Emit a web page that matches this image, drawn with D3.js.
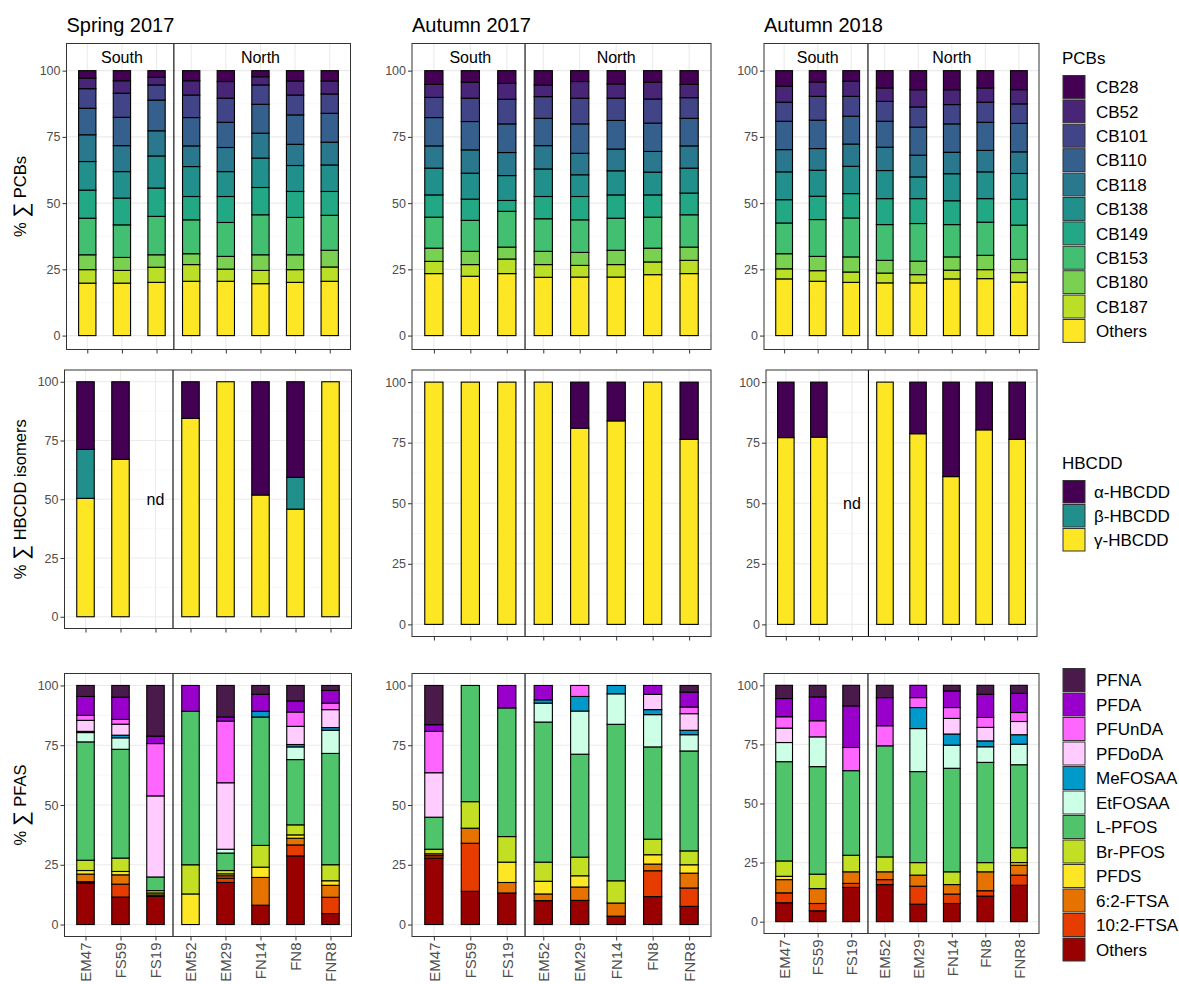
<!DOCTYPE html>
<html><head><meta charset="utf-8">
<script src="https://cdn.jsdelivr.net/npm/d3@7"></script>
<style>
body{margin:0;background:#fff;}
svg{font-family:"Liberation Sans", Arial, sans-serif;}
</style></head><body>
<svg id="chart" width="1179" height="984"></svg>
<script>
// ---------------- DATA ----------------
const sites = ["EM47","FS59","FS19","EM52","EM29","FN14","FN8","FNR8"];
const seasons = ["Spring 2017","Autumn 2017","Autumn 2018"];
const regionLabels = ["South","North"];

const pcbNames = ["CB28","CB52","CB101","CB110","CB118","CB138","CB149","CB153","CB180","CB187","Others"];
const pcbColors = ["#440154","#482576","#414487","#35608D","#2A788E","#21908C","#22A884","#43BF71","#7AD151","#BBDF27","#FDE725"];

// rows = sites, columns = pcbNames (% of sum PCBs)
const pcbSpring2017 = [
  [2.8,4.0,7.4,10.0,10.1,10.8,10.6,13.8,5.6,5.1,19.8],
  [3.8,4.7,9.1,10.7,9.8,10.0,10.1,12.3,4.9,4.8,19.8],
  [2.5,2.9,5.7,11.6,9.5,12.1,10.7,14.5,4.7,5.7,20.1],
  [3.8,5.4,8.5,10.7,7.8,11.3,8.8,12.8,4.1,6.3,20.5],
  [4.1,6.3,9.1,9.5,9.1,9.4,9.8,12.8,4.8,4.6,20.5],
  [2.3,3.1,7.3,10.9,9.4,11.1,10.3,15.1,5.9,5.0,19.6],
  [3.9,5.3,7.5,11.1,8.0,9.8,9.8,14.1,5.6,4.8,20.1],
  [3.9,4.9,7.3,10.9,8.6,10.0,9.0,13.2,6.3,5.4,20.5]
];
const pcbAutumn2017 = [
  [5.2,4.9,7.6,10.7,8.4,10.1,8.4,11.7,5.0,4.6,23.4],
  [4.3,6.1,8.8,10.7,8.8,9.8,8.0,11.7,5.0,4.4,22.4],
  [4.8,6.0,9.3,10.8,8.7,9.4,4.1,13.5,4.5,5.5,23.4],
  [5.4,4.4,8.2,10.3,8.8,10.4,8.4,12.3,5.0,4.8,22.0],
  [4.1,6.3,9.7,11.1,8.1,8.2,8.8,12.3,4.9,4.4,22.1],
  [5.0,5.4,8.4,10.8,8.2,9.1,8.8,12.1,5.4,4.7,22.1],
  [4.4,6.3,9.1,10.7,7.8,8.6,8.4,11.7,5.2,4.8,23.0],
  [5.2,5.0,7.8,10.4,8.4,9.4,8.2,12.2,5.0,5.0,23.4]
];
const pcbAutumn2018 = [
  [5.9,6.0,7.2,10.7,8.4,10.5,8.8,11.6,5.7,3.8,21.4],
  [4.3,5.4,9.0,10.7,8.2,9.8,8.8,13.9,5.4,4.0,20.5],
  [4.0,5.7,7.5,10.5,8.4,10.3,9.2,14.7,5.7,3.9,20.1],
  [6.5,5.1,7.5,9.8,8.8,10.6,9.8,13.5,4.8,3.7,19.9],
  [7.2,6.5,7.6,10.6,8.2,8.2,9.4,14.2,5.1,3.1,19.9],
  [7.2,5.6,7.3,10.7,8.1,10.2,9.0,12.2,5.0,3.3,21.4],
  [6.5,5.4,7.6,10.6,8.1,10.1,8.9,12.5,5.4,3.4,21.5],
  [7.2,5.4,7.4,10.8,8.2,9.8,9.8,13.0,5.0,3.6,20.3]
];

const hbcddNames = ["\u03b1-HBCDD","\u03b2-HBCDD","\u03b3-HBCDD"];
const hbcddColors = ["#440154","#21908C","#FDE725"];
// null = not detected (nd)
const hbcddSpring2017 = [[28.8,20.8,50.4],[33.0,0,67.0],null,[15.6,0,84.4],[0,0,100],[48.2,0,51.8],[40.7,13.5,45.8],[0,0,100]];
const hbcddAutumn2017 = [[0,0,100],[0,0,100],[0,0,100],[0,0,100],[19.0,0,81.0],[16.0,0,84.0],[0,0,100],[23.6,0,76.4]];
const hbcddAutumn2018 = [[22.9,0,77.1],[22.7,0,77.3],null,[0,0,100],[21.3,0,78.7],[39.0,0,61.0],[19.7,0,80.3],[23.6,0,76.4]];

const pfasNames = ["PFNA","PFDA","PFUnDA","PFDoDA","MeFOSAA","EtFOSAA","L-PFOS","Br-PFOS","PFDS","6:2-FTSA","10:2-FTSA","Others"];
const pfasColors = ["#4A1A4A","#9900CC","#FF66FF","#FFCCFF","#0099CC","#CCFFE6","#4FC46A","#C2DF23","#FDE725","#E67300","#E63C00","#990000"];
const pfasSpring2017 = [
  [4.6,7.9,2.1,4.6,0.5,3.9,49.5,4.3,1.5,3.2,0.5,17.4],
  [4.9,9.3,2.0,4.6,1.1,4.8,45.5,5.6,1.4,3.9,5.4,11.5],
  [21.2,3.1,21.9,33.9,0,0,5.7,1.0,0.8,0,0.6,11.8],
  [0,10.8,0,0,0,0,64.2,12.2,12.8,0,0,0],
  [13.2,1.7,25.8,27.8,0,1.6,7.3,1.4,0.8,1.0,1.8,17.6],
  [3.7,7.1,0,0,2.4,0,53.7,9.1,4.3,11.6,0,8.1],
  [6.5,4.6,6.0,7.6,1.0,5.3,27.3,4.2,1.4,2.8,4.6,28.7],
  [2.1,5.3,2.7,7.5,1.1,9.7,46.5,6.7,1.9,5.0,6.8,4.6]
];
const pfasAutumn2017 = [
  [16.4,2.8,17.3,18.6,0,0,13.4,1.9,0,0.8,1.0,27.8],
  [0,0,0,0,0,0,48.6,11.1,0,6.3,20.1,13.9],
  [0,9.4,0,0,0,0,53.8,10.7,8.5,4.4,0,13.2],
  [0,6.0,0,0,1.4,7.9,58.6,8.0,5.3,2.8,0,10.0],
  [0,0,4.6,0,6.1,18.05,43.05,7.8,4.7,5.6,0,10.1],
  [0,0,0,0,3.5,12.75,65.45,9.3,0,5.5,0,3.5],
  [0,3.75,0,6.35,2.1,13.5,38.6,6.5,3.9,2.8,10.8,11.7],
  [2.8,6.2,2.8,6.95,1.85,6.8,41.8,5.8,3.5,6.2,7.7,7.6]
];
const pfasAutumn2018 = [
  [5.6,7.7,4.8,6.1,0,8.1,42.0,6.5,1.4,5.6,4.2,8.0],
  [4.9,10.1,6.8,0,0,12.6,45.5,6.1,0,6.3,3.1,4.6],
  [8.7,17.6,9.8,0,0,0,35.8,7.0,0,4.9,1.7,14.5],
  [5.2,11.9,8.5,0,0,0,47.0,6.3,0,3.3,2.1,15.7],
  [0,5.2,4.2,0,8.9,18.2,38.5,5.3,0,4.7,7.6,7.4],
  [2.4,7.0,4.6,6.6,4.7,9.8,43.8,5.4,0,4.0,4.0,7.7],
  [3.8,9.8,4.2,5.7,2.5,6.6,42.4,3.9,0,8.0,2.3,10.8],
  [3.4,8.1,3.8,5.6,4.0,8.7,35.1,6.3,1.1,4.2,4.3,15.4]
];

const yTicks = [0,25,50,75,100];

// ---------------- LAYOUT ----------------
const svg = d3.select("#chart");
const FONT = "\"Liberation Sans\", Arial, sans-serif";

const rows = [
  { names: pcbNames, colors: pcbColors, data: [pcbSpring2017, pcbAutumn2017, pcbAutumn2018],
    domain: [-5.25, 110.25], regionText: true, xLabels: false, yTitle: "PCBs",
    boxes: [[66.5,43.5,350.5,349.5],[412,43.5,711,349.5],[764,43.5,1039,349.5]] },
  { names: hbcddNames, colors: hbcddColors, data: [hbcddSpring2017, hbcddAutumn2017, hbcddAutumn2018],
    domain: [-5, 105], regionText: false, xLabels: false, yTitle: "HBCDD isomers",
    boxes: [[64.5,370,351.5,628.5],[412,370,711,636.5],[766,370,1037,636.5]] },
  { names: pfasNames, colors: pfasColors, data: [pfasSpring2017, pfasAutumn2017, pfasAutumn2018],
    domain: [-5, 105], regionText: false, xLabels: true, yTitle: "PFAS",
    boxes: [[64.5,673.5,351.5,936.5],[412,673.5,711,936.5],[764,673.5,1039,933.5]] }
];

function drawPanel(row, ci) {
  const [x0, y0, x1, y1] = row.boxes[ci];
  const g = svg.append("g");
  const x = d3.scalePoint().domain(sites).range([x0, x1]).padding(0.6);
  const y = d3.scaleLinear().domain(row.domain).range([y1, y0]);
  const bw = x.step() * 0.5;

  // background grid
  const grid = g.append("g");
  const minor = d3.range(12.5, 100, 25);
  grid.selectAll("line.minor").data(minor).join("line")
    .attr("x1", x0).attr("x2", x1).attr("y1", d => y(d)).attr("y2", d => y(d))
    .attr("stroke", "#F2F2F2").attr("stroke-width", 0.6);
  grid.selectAll("line.majy").data(yTicks).join("line")
    .attr("x1", x0).attr("x2", x1).attr("y1", d => y(d)).attr("y2", d => y(d))
    .attr("stroke", "#EBEBEB").attr("stroke-width", 1.1);
  grid.selectAll("line.majx").data(sites).join("line")
    .attr("x1", d => x(d)).attr("x2", d => x(d)).attr("y1", y0).attr("y2", y1)
    .attr("stroke", "#EBEBEB").attr("stroke-width", 1.1);

  // stacked bars
  const data = row.data[ci];
  const rowsObj = [];
  data.forEach((vals, i) => {
    if (!vals) return;
    const tot = d3.sum(vals);
    const o = { site: sites[i] };
    row.names.forEach((n, k) => o[n] = vals[k] / tot * 100);
    rowsObj.push(o);
  });
  const keys = row.names.slice().reverse(); // bottom first
  const stack = d3.stack().keys(keys)(rowsObj);
  const color = d3.scaleOrdinal().domain(row.names).range(row.colors);
  stack.forEach(series => {
    g.append("g").selectAll("rect")
      .data(series.filter(d => d[1] - d[0] > 0.001))
      .join("rect")
      .attr("x", d => x(d.data.site) - bw / 2)
      .attr("width", bw)
      .attr("y", d => y(d[1]))
      .attr("height", d => y(d[0]) - y(d[1]))
      .attr("fill", color(series.key))
      .attr("stroke", "#000")
      .attr("stroke-width", 1.1);
  });

  // nd labels
  data.forEach((vals, i) => {
    if (vals) return;
    g.append("text").attr("x", x(sites[i])).attr("y", y(50)).attr("dy", "0.35em")
      .attr("text-anchor", "middle").attr("font-size", 16).attr("fill", "#000").text("nd");
  });

  // divider South/North
  const xd = (x(sites[2]) + x(sites[3])) / 2;
  g.append("line").attr("x1", xd).attr("x2", xd).attr("y1", y0).attr("y2", y1)
    .attr("stroke", "#000").attr("stroke-width", 1.1);

  if (row.regionText) {
    g.append("text").attr("x", x(sites[1])).attr("y", y(105)).attr("dy", "0.35em")
      .attr("text-anchor", "middle").attr("font-size", 16).text(regionLabels[0]);
    g.append("text").attr("x", x(sites[5])).attr("y", y(105)).attr("dy", "0.35em")
      .attr("text-anchor", "middle").attr("font-size", 16).text(regionLabels[1]);
  }

  // border
  g.append("rect").attr("x", x0).attr("y", y0).attr("width", x1 - x0).attr("height", y1 - y0)
    .attr("fill", "none").attr("stroke", "#333").attr("stroke-width", 1);

  // axes
  const ya = g.append("g").attr("transform", `translate(${x0},0)`)
    .call(d3.axisLeft(y).tickValues(yTicks).tickSize(4).tickPadding(2));
  ya.select(".domain").remove();
  ya.selectAll(".tick line").attr("stroke", "#333");
  ya.selectAll(".tick text").attr("fill", "#4D4D4D").attr("font-size", 12.5).attr("font-family", FONT);

  const xa = g.append("g").attr("transform", `translate(0,${y1})`)
    .call(d3.axisBottom(x).tickSize(4).tickPadding(3));
  xa.select(".domain").remove();
  xa.selectAll(".tick line").attr("stroke", "#333");
  if (row.xLabels) {
    xa.selectAll(".tick text")
      .attr("fill", "#4D4D4D").attr("font-size", 15).attr("font-family", FONT)
      .attr("transform", "rotate(-90)")
      .attr("text-anchor", "end")
      .attr("x", -6).attr("y", 0).attr("dy", "0.35em");
  } else {
    xa.selectAll(".tick text").remove();
  }
  return { x0, y0, x1, y1 };
}

rows.forEach((row, ri) => {
  const boxes = [0, 1, 2].map(ci => drawPanel(row, ci));
  // y-axis title
  const b = boxes[0];
  const cy = (b.y0 + b.y1) / 2;
  const t = svg.append("text")
    .attr("transform", `translate(26,${cy}) rotate(-90)`)
    .attr("text-anchor", "middle").attr("font-size", 16.5).attr("fill", "#000");
  t.append("tspan").text("% ");
  t.append("tspan").attr("font-size", 21).attr("dy", 1.5).text("\u2211");
  t.append("tspan").attr("dy", -1.5).text(" " + row.yTitle);
  if (ri === 0) {
    boxes.forEach((bb, ci) => {
      svg.append("text").attr("x", bb.x0).attr("y", 32).attr("font-size", 20)
        .attr("fill", "#000").text(seasons[ci]);
    });
  }
});

// ---------------- LEGENDS ----------------
function legend(title, names, colors, titleY, top, step, labelX) {
  const g = svg.append("g");
  if (title) g.append("text").attr("x", 1062).attr("y", titleY).attr("font-size", 17).text(title);
  names.forEach((n, i) => {
    g.append("rect").attr("x", 1063).attr("y", top + i * step + 0.5)
      .attr("width", 22).attr("height", step - 1.5)
      .attr("fill", colors[i]).attr("stroke", "#333").attr("stroke-width", 1);
    g.append("text").attr("x", labelX).attr("y", top + i * step + step / 2).attr("dy", "0.35em")
      .attr("font-size", 17).text(n);
  });
}
legend("PCBs", pcbNames, pcbColors, 64, 75, 24.4, 1096);
legend("HBCDD", hbcddNames, hbcddColors, 469, 480, 24, 1094);
legend(null, pfasNames, pfasColors, 0, 668, 24.5, 1096);
</script>
</body></html>
